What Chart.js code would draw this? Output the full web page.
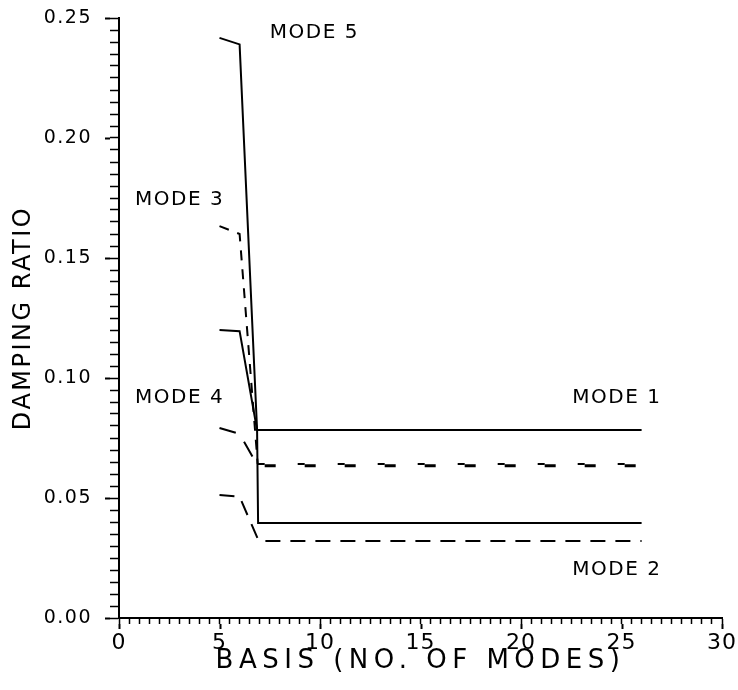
<!DOCTYPE html>
<html><head><meta charset="utf-8">
<script src="https://cdn.jsdelivr.net/npm/chart.js@4/dist/chart.umd.min.js"></script>
<style>html,body{margin:0;padding:0;background:#fff;}</style>
</head><body>
<canvas id="c" width="738" height="690"></canvas>
<script>
// ---- data ----
const xTickLabels = ['0', '5', '10', '15', '20', '25', '30'];
const yTickLabels = ['0.00', '0.05', '0.10', '0.15', '0.20', '0.25'];
const modeLabels = ['MODE 5', 'MODE 3', 'MODE 4', 'MODE 1', 'MODE 2'];

const solidUpperBasis = [5, 6, 6.87, 26];
const solidUpperRatio = [0.2417, 0.2390, 0.0783, 0.0783];
const solidLowerBasis = [5, 6, 6.87, 6.92, 26];
const solidLowerRatio = [0.1200, 0.1195, 0.0783, 0.0396, 0.0396];
const dashedUpperBasis = [5, 6, 6.9, 26];
const dashedUpperRatio = [0.1633, 0.1600, 0.0642, 0.0642];
const dashedMiddleBasis = [5, 6, 6.9, 26];
const dashedMiddleRatio = [0.0792, 0.0767, 0.0634, 0.0634];
const dashedLowerBasis = [5, 6, 6.95, 26];
const dashedLowerRatio = [0.0513, 0.0505, 0.0321, 0.0321];

// label anchors in data coordinates
const labelBasis = [7.5, 0.8, 0.8, 22.55, 22.55];
const labelRatio = [0.2440, 0.1742, 0.0917, 0.0917, 0.0200];

// ---- build ----
const pts = (xs, ys) => xs.map((v, i) => ({x: v, y: ys[i]}));
const isMult = (v, s) => Math.abs(v / s - Math.round(v / s)) < 1e-6;

function lineDs(xs, ys, dash, lastDash, lastOffset, lastWidth) {
  const n = xs.length;
  const ds = {
    data: pts(xs, ys), borderColor: '#000', borderWidth: 2,
    borderDash: dash || [], pointRadius: 0, tension: 0, fill: false
  };
  if (lastDash) {
    ds.segment = {
      borderDash: c => c.p1DataIndex === n - 1 ? lastDash : dash,
      borderDashOffset: c => c.p1DataIndex === n - 1 ? lastOffset : 0,
      borderWidth: c => c.p1DataIndex === n - 1 ? lastWidth : 2
    };
  }
  return ds;
}

function withSpacing(fn, sp) {
  return function (...a) {
    const c = this.ctx; const p = c.letterSpacing;
    c.letterSpacing = sp;
    try { return fn.apply(this, a); } finally { c.letterSpacing = p; }
  };
}

const extras = {
  id: 'extras',
  beforeLayout(chart) {
    chart.ctx.letterSpacing = '0px';
  },
  beforeDraw(chart) {
    const sp = {x: ['1px', '5.5px'], y: ['1.5px', '2.5px']};
    for (const id of ['x', 'y']) {
      const s = chart.scales[id];
      if (s && !s._spaced) {
        s.drawLabels = withSpacing(s.drawLabels, sp[id][0]);
        s.drawTitle = withSpacing(s.drawTitle, sp[id][1]);
        s._spaced = true;
      }
    }
  },
  afterDraw(chart) {
    const {ctx, scales: {x, y}} = chart;
    ctx.save();
    ctx.strokeStyle = '#000';
    ctx.lineWidth = 2;
    ctx.beginPath();
    y.ticks.forEach(t => {
      if (isMult(t.value, 0.05)) {
        const py = Math.round(y.getPixelForValue(t.value)) + 0.5;
        ctx.moveTo(y.right - 9, py); ctx.lineTo(y.right - 14, py);
      }
    });
    x.ticks.forEach(t => {
      if (isMult(t.value, 5)) {
        const px = Math.round(x.getPixelForValue(t.value)) + 0.5;
        ctx.moveTo(px, x.top + 6); ctx.lineTo(px, x.top + 11);
      }
    });
    ctx.stroke();
    ctx.fillStyle = '#000';
    ctx.font = '20px "DejaVu Sans"';
    ctx.letterSpacing = '1.5px';
    ctx.textBaseline = 'middle';
    ctx.textAlign = 'left';
    modeLabels.forEach((m, i) => {
      ctx.fillText(m, x.getPixelForValue(labelBasis[i]), y.getPixelForValue(labelRatio[i]));
    });
    ctx.restore();
  }
};

new Chart(document.getElementById('c'), {
  type: 'line',
  data: {
    datasets: [
      lineDs(solidUpperBasis, solidUpperRatio),
      lineDs(solidLowerBasis, solidLowerRatio),
      lineDs(dashedUpperBasis, dashedUpperRatio, [10, 9], [7, 33], 0, 2),
      lineDs(dashedMiddleBasis, dashedMiddleRatio, [17, 13], [11, 29], -7, 3),
      lineDs(dashedLowerBasis, dashedLowerRatio, [15, 10])
    ]
  },
  options: {
    responsive: false,
    devicePixelRatio: 1,
    animation: false,
    layout: {padding: {top: 18, right: 16, bottom: 0, left: 0}},
    plugins: {legend: {display: false}, tooltip: {enabled: false}},
    scales: {
      x: {
        type: 'linear', min: 0, max: 30,
        afterFit: s => { s.height = 72; s.paddingLeft = 0; s.paddingRight = 0; },
        ticks: {
          stepSize: 0.5, autoSkip: false, maxRotation: 0, minRotation: 0,
          color: '#000', font: {family: 'DejaVu Sans', size: 22}, padding: 6,
          callback: v => isMult(v, 5) ? xTickLabels[Math.round(v / 5)] : ''
        },
        grid: {drawOnChartArea: false, drawTicks: true, tickLength: 6, tickWidth: 1.5, tickColor: '#000'},
        border: {display: true, color: '#000', width: 2},
        title: {display: true, text: 'BASIS (NO. OF MODES)', color: '#000',
          font: {family: 'DejaVu Sans', size: 26}, padding: {top: 0, bottom: 13}}
      },
      y: {
        type: 'linear', min: 0, max: 0.25,
        afterFit: s => { s.width = 119; s.paddingTop = 0; s.paddingBottom = 0; },
        ticks: {
          stepSize: 0.005, autoSkip: false,
          color: '#000', font: {family: 'DejaVu Sans', size: 19}, padding: 18,
          callback: v => isMult(v, 0.05) ? yTickLabels[Math.round(v / 0.05)] : ''
        },
        grid: {drawOnChartArea: false, drawTicks: true, tickLength: 9, tickWidth: 1.5, tickColor: '#000'},
        border: {display: true, color: '#000', width: 2},
        title: {display: true, text: 'DAMPING RATIO', color: '#000',
          font: {family: 'DejaVu Sans', size: 24}, padding: {top: 9, bottom: 0}}
      }
    }
  },
  plugins: [extras]
});
</script>
</body></html>
